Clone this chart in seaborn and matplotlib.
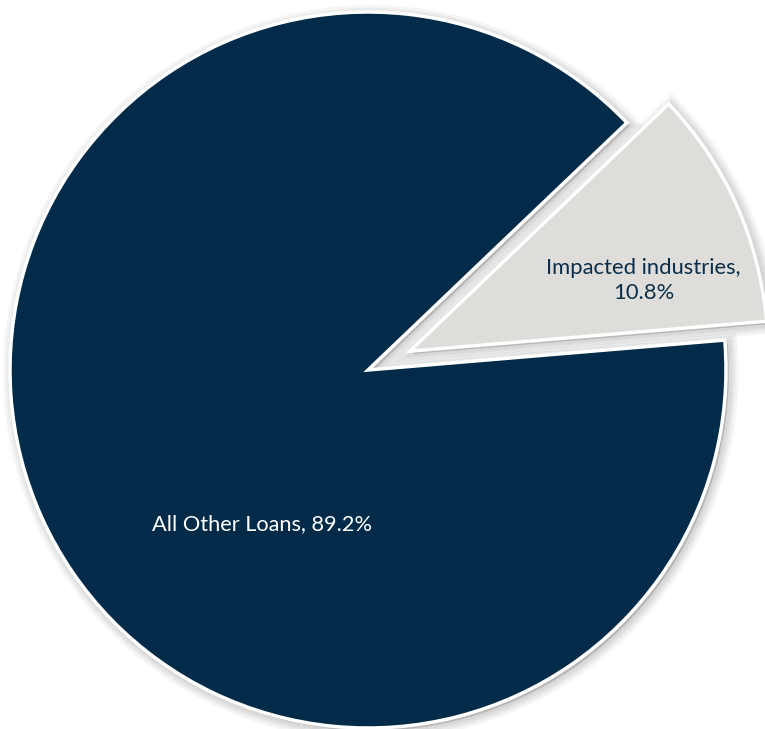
import numpy as np
import matplotlib
matplotlib.use('Agg')
import matplotlib.pyplot as plt
import seaborn as sns

sns.set_theme(style='white')
plt.rcParams['font.family'] = ['Lato', 'DejaVu Sans']

# datos
labels = ['Impacted industries', 'All Other Loans']
shares = [10.8, 89.2]
colors = ['#DEDDD9', '#022B49']
explode = [0.128, 0.0]
start = 4.8

fig = plt.figure(figsize=(7.65, 7.29), dpi=100)
ax = fig.add_axes([0, 0, 1, 1])

# sombra suave (varias capas translucidas)
for lw in [14, 10, 7, 4]:
    ax.pie(shares, explode=explode, startangle=start, counterclock=True,
           center=(0.008, -0.008), colors=['#000000', '#000000'],
           wedgeprops={'linewidth': lw, 'edgecolor': '#000000', 'alpha': 0.04})

wedges, _ = ax.pie(shares, explode=explode, startangle=start, counterclock=True,
                   colors=colors, wedgeprops={'linewidth': 2.5, 'edgecolor': 'white'})

# etiquetas
ax.text(0.77, 0.25, f'{labels[0]},\n{shares[0]}%', ha='center', va='center',
        color='#0B2E4A', fontsize=15.8, linespacing=1.3)
ax.text(-0.297, -0.43, f'{labels[1]}, {shares[1]}%', ha='center', va='center',
        color='white', fontsize=15.7)

ax.set_aspect('auto')
ax.set_xlim(-368 / 358, (765 - 368) / 358)
ax.set_ylim(-359 / 358, 370 / 358)
ax.axis('off')

fig.savefig('out.png', dpi=100, facecolor='white')
